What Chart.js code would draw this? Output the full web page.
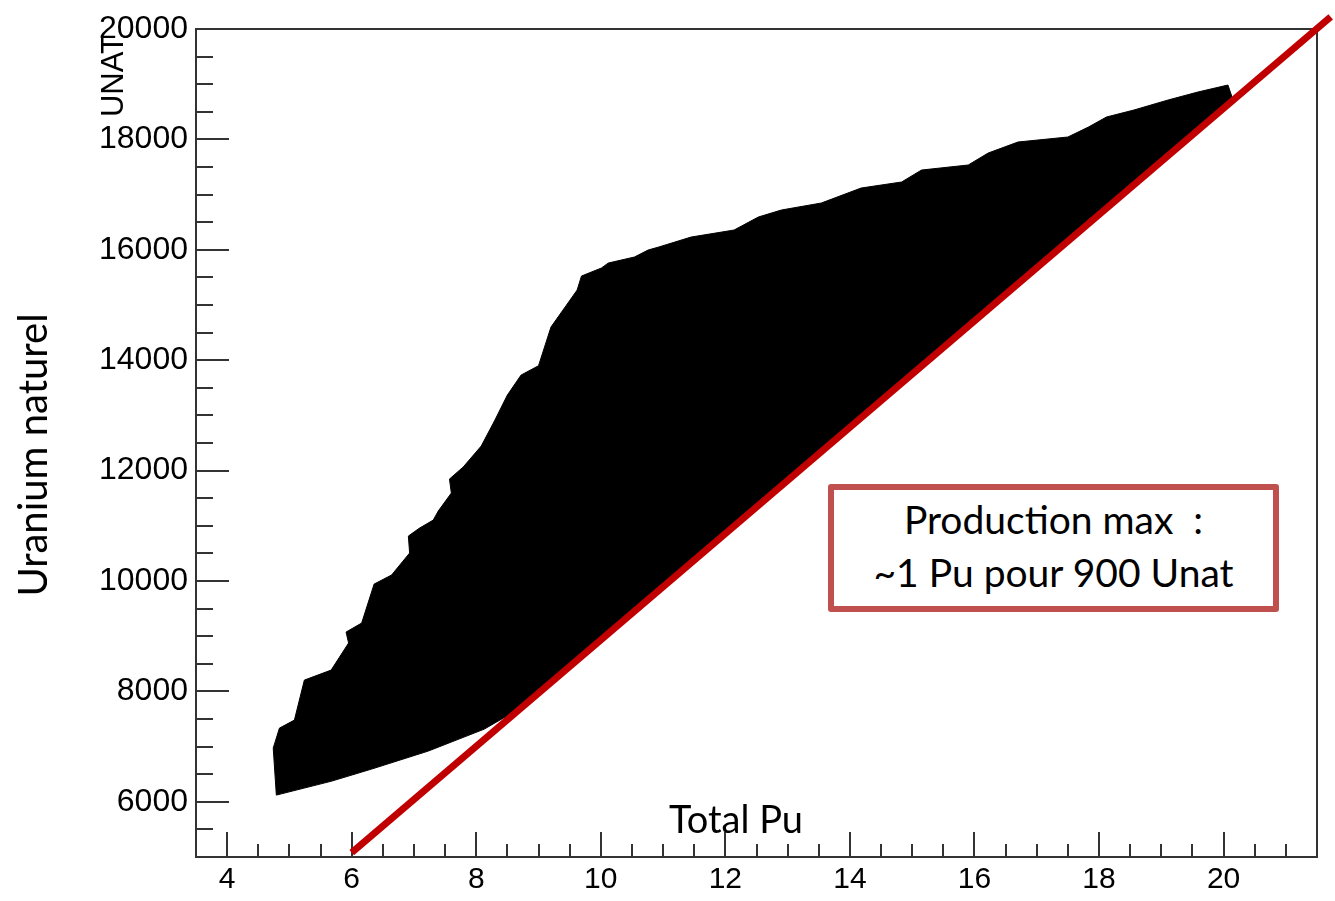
<!DOCTYPE html>
<html>
<head>
<meta charset="utf-8">
<title>UNAT vs Total Pu</title>
<script src="https://cdn.jsdelivr.net/npm/chart.js"></script>
<style>
  body { margin: 0; background: #fff; }
  .wrap { position: relative; width: 1335px; height: 901px; }
  .note { position: absolute; white-space: pre; color: #000; }
  .ttl { font-family: Lato, sans-serif; }
  .box {
    left: 828px; top: 484px; width: 451px; height: 128px;
    box-sizing: border-box; border: 6px solid #c0504d; border-radius: 3px;
    background: #fff; text-align: center; font-size: 39px; line-height: 53px;
    padding-top: 3px;
  }
</style>
</head>
<body>
<div class="wrap">
  <canvas id="myChart"></canvas>
  <div class="note" style="font-family:'Liberation Sans',Arial,sans-serif;font-size:31px;line-height:36px;width:120px;height:36px;text-align:center;left:53px;top:58px;transform:rotate(-90deg);">UNAT</div>
  <div class="note ttl" style="font-size:40px;line-height:48px;width:400px;height:48px;text-align:center;left:-168px;top:431px;transform:rotate(-90deg);">Uranium naturel</div>
  <div class="note ttl" style="font-size:38px;line-height:46px;width:200px;text-align:center;left:636px;top:795px;">Total Pu</div>
  <div class="note ttl box">Production max  :
~1 Pu pour 900 Unat</div>
</div>
<script>
// tick labels
const xTickValues = [4, 6, 8, 10, 12, 14, 16, 18, 20];
const yTickValues = [6000, 8000, 10000, 12000, 14000, 16000, 18000, 20000];

// outline of the cloud of points (upper/left edge)
const edgeTopX = [4.79, 4.74, 4.84, 5.08, 5.24, 5.67, 5.95, 5.91, 6.16, 6.36, 6.64, 6.93, 6.91, 7.09, 7.31, 7.39,
  7.60, 7.57, 7.79, 8.08, 8.30, 8.50, 8.72, 9.00, 9.20, 9.62, 9.69, 10.01, 10.12, 10.54, 10.76, 10.93,
  11.45, 12.14, 12.53, 12.90, 13.54, 14.18, 14.83, 15.15, 15.90, 16.22, 16.70, 17.50, 17.83, 18.12,
  18.56, 19.11, 19.59, 20.07];
const edgeTopY = [6121, 6973, 7335, 7480, 8205, 8386, 8876, 9075, 9238, 9944, 10108, 10506, 10814, 10959, 11104, 11267,
  11593, 11847, 12064, 12445, 12916, 13369, 13731, 13900, 14601, 15271, 15525, 15670, 15760, 15869, 15996, 16050,
  16231, 16358, 16594, 16721, 16847, 17119, 17228, 17445, 17536, 17753, 17953, 18043, 18224, 18406,
  18532, 18714, 18859, 18985];
// lower/right edge
const edgeBottomX = [4.79, 5.68, 6.32, 7.23, 8.13, 8.5, 9.5, 11, 13, 15, 17, 19, 20.15];
const edgeBottomY = [6121, 6375, 6593, 6919, 7317, 7560, 8450, 9900, 11820, 13750, 15680, 17610, 18720];

// red line : ~1 Pu pour 900 Unat
const limitX = [6, 21.72];
const limitY = [5080, 20220];

const cloud = edgeTopX.map((x, i) => ({x: x, y: edgeTopY[i]}));
for (let i = edgeBottomX.length - 1; i >= 0; i--) {
  cloud.push({x: edgeBottomX[i], y: edgeBottomY[i]});
}
const limit = limitX.map((x, i) => ({x: x, y: limitY[i]}));

// ROOT style frame with ticks pointing inside
const innerTicks = {
  id: 'innerTicks',
  beforeDatasetsDraw(chart) {
    const {ctx, chartArea: a, scales: {x, y}} = chart;
    ctx.save();
    ctx.strokeStyle = '#333';
    ctx.lineWidth = 2;
    ctx.beginPath();
    for (let v = 3.5; v <= 21.5; v += 0.5) {
      const px = Math.round(x.getPixelForValue(v));
      const len = v % 2 === 0 ? 25 : 13;
      ctx.moveTo(px, a.bottom);
      ctx.lineTo(px, a.bottom - len);
    }
    for (let v = 5000; v <= 20000; v += 500) {
      const py = Math.round(y.getPixelForValue(v));
      const len = v % 2000 === 0 ? 33 : 17;
      ctx.moveTo(a.left, py);
      ctx.lineTo(a.left + len, py);
    }
    ctx.stroke();
    ctx.strokeRect(a.left, a.top, a.right - a.left, a.bottom - a.top);
    ctx.restore();
  }
};

const config = {
  type: 'line',
  data: {
    datasets: [{
      label: 'limit',
      data: limit,
      borderColor: '#c00000',
      borderWidth: 7,
      borderCapStyle: 'butt',
      pointRadius: 0,
      fill: false,
      clip: false,
      order: 0
    }, {
      label: 'cloud',
      data: cloud,
      borderColor: '#000',
      backgroundColor: '#000',
      borderWidth: 1,
      pointRadius: 0,
      tension: 0,
      fill: 'shape',
      order: 1
    }]
  },
  options: {
    responsive: true,
    maintainAspectRatio: false,
    animation: false,
    layout: {
      padding: {top: 29, right: 18, left: 0, bottom: 0}
    },
    scales: {
      x: {
        type: 'linear',
        min: 3.5,
        max: 21.5,
        grid: {display: false, drawTicks: false},
        border: {display: false},
        afterBuildTicks: s => { s.ticks = xTickValues.map(v => ({value: v})); },
        afterFit: s => { s.height = 44; },
        ticks: {
          padding: 5,
          color: '#000',
          callback: v => String(v),
          font: {family: "'Liberation Sans', Arial, sans-serif", size: 30}
        }
      },
      y: {
        min: 5000,
        max: 20000,
        grid: {display: false, drawTicks: false},
        border: {display: false},
        afterBuildTicks: s => { s.ticks = yTickValues.map(v => ({value: v})); },
        afterFit: s => { s.width = 196; },
        ticks: {
          padding: 8,
          color: '#000',
          callback: v => String(v),
          font: {family: "'Liberation Sans', Arial, sans-serif", size: 32}
        }
      }
    },
    plugins: {
      legend: {display: false},
      tooltip: {enabled: false}
    }
  },
  plugins: [innerTicks]
};

const myChart = new Chart(document.getElementById('myChart'), config);
</script>
</body>
</html>
